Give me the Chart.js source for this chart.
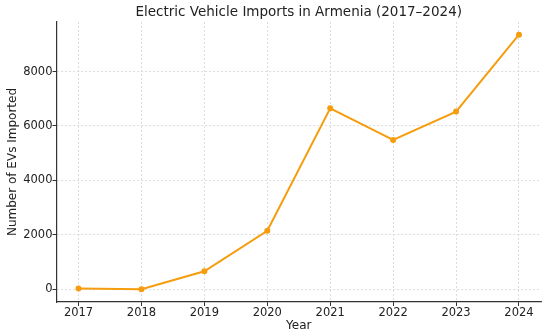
<!DOCTYPE html>
<html>
<head>
<meta charset="utf-8">
<script src="https://cdn.jsdelivr.net/npm/chart.js@4"></script>
<style>
  html, body { margin: 0; padding: 0; background: #fff; }
  #wrap { width: 550px; height: 336px; }
</style>
</head>
<body>
<div id="wrap"><canvas id="c" width="550" height="336"></canvas></div>
<script>
const years = [2017, 2018, 2019, 2020, 2021, 2022, 2023, 2024];
const evImports = [25, 5, 663, 2147, 6650, 5486, 6528, 9352];
const yTicks = [0, 2000, 4000, 6000, 8000];
const titleText = 'Electric Vehicle Imports in Armenia (2017–2024)';
const xTitle = 'Year';
const yTitle = 'Number of EVs Imported';

const FONT = "'DejaVu Sans', sans-serif";
const TXT = '#222222';
const LINE = '#f59d0e';

const points = years.map((y, i) => ({ x: y, y: evImports[i] }));

new Chart(document.getElementById('c'), {
  type: 'line',
  data: {
    datasets: [{
      data: points,
      borderColor: LINE,
      backgroundColor: LINE,
      borderWidth: 2,
      pointRadius: 3,
      pointBorderWidth: 0,
      pointBackgroundColor: LINE,
      tension: 0,
      fill: false
    }]
  },
  options: {
    responsive: false,
    animation: false,
    devicePixelRatio: 1,
    layout: { padding: { left: 0, right: 9, top: 0, bottom: 0 } },
    plugins: {
      legend: { display: false },
      tooltip: { enabled: false },
      title: {
        display: true,
        fullSize: false,
        text: titleText,
        color: TXT,
        font: { family: FONT, size: 13.5, weight: 'normal' },
        padding: { top: 4, bottom: 1.8 }
      }
    },
    scales: {
      x: {
        type: 'linear',
        min: 2016.65,
        max: 2024.35,
        afterBuildTicks: (axis) => { axis.ticks = years.map(v => ({ value: v })); },
        afterFit: (axis) => { axis.height = 34; },
        ticks: {
          color: TXT,
          font: { family: FONT, size: 11.5 },
          padding: 0,
          maxRotation: 0,
          autoSkip: false,
          callback: (v) => String(v)
        },
        grid: {
          color: '#d4d4d4',
          lineWidth: 0.8,
          tickLength: 4,
          tickColor: '#333333',
          tickWidth: 1
        },
        border: { display: true, color: '#333333', width: 1.2, dash: [2, 2] },
        title: {
          display: true,
          text: xTitle,
          color: TXT,
          font: { family: FONT, size: 12 },
          padding: { top: 0, bottom: 3 }
        }
      },
      y: {
        type: 'linear',
        min: -468,
        max: 9820,
        afterBuildTicks: (axis) => { axis.ticks = yTicks.map(v => ({ value: v })); },
        afterFit: (axis) => { axis.width = 56.5; },
        ticks: {
          color: TXT,
          font: { family: FONT, size: 11.5 },
          padding: 0,
          callback: (v) => String(v)
        },
        grid: {
          color: '#d4d4d4',
          lineWidth: 0.8,
          tickLength: 4,
          tickColor: '#333333',
          tickWidth: 1
        },
        border: { display: true, color: '#333333', width: 1.2, dash: [2, 2] },
        title: {
          display: true,
          text: yTitle,
          color: TXT,
          font: { family: FONT, size: 12 },
          padding: { top: 6, bottom: 0 }
        }
      }
    }
  }
});
</script>
</body>
</html>
